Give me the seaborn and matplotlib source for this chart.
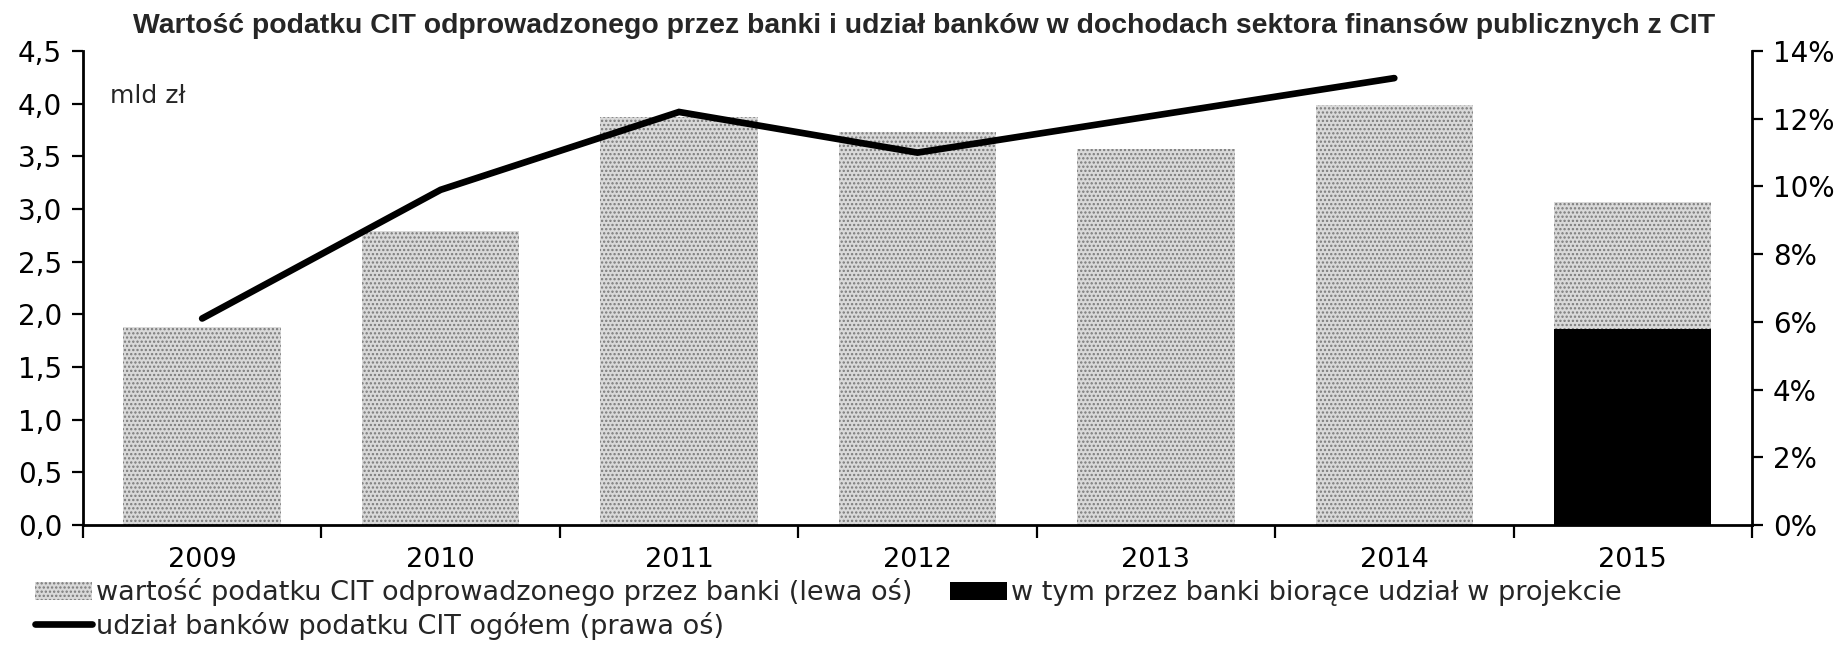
import numpy as np
import pandas as pd
import matplotlib
matplotlib.use("Agg")
import matplotlib.pyplot as plt
import seaborn as sns
from matplotlib.ticker import FuncFormatter
from matplotlib.patches import Patch
from matplotlib.lines import Line2D

# CIT paid by banks (bn PLN) and banks' share in public-sector CIT revenue (%)
years = ["2009", "2010", "2011", "2012", "2013", "2014", "2015"]
cit_banks = [1.88, 2.79, 3.87, 3.73, 3.57, 3.99, 3.07]
cit_projection_banks = [np.nan, np.nan, np.nan, np.nan, np.nan, np.nan, 1.86]
share_years = ["2009", "2010", "2011", "2012", "2013", "2014"]
bank_share_pct = [6.1, 9.9, 12.2, 11.0, 12.1, 13.2]

left_ticks = [0.0, 0.5, 1.0, 1.5, 2.0, 2.5, 3.0, 3.5, 4.0, 4.5]
right_ticks = [0, 2, 4, 6, 8, 10, 12, 14]

title = ("Wartość podatku CIT odprowadzonego przez banki i udział banków "
         "w dochodach sektora finansów publicznych z CIT")
lbl_total = "wartość podatku CIT odprowadzonego przez banki (lewa oś)"
lbl_proj = "w tym przez banki biorące udział w projekcie"
lbl_share = "udział banków podatku CIT ogółem (prawa oś)"

sns.set_theme(style="white")
plt.rcParams["font.family"] = ["DejaVu Sans"]
plt.rcParams["hatch.linewidth"] = 1.1

NARROW = "Liberation Sans Narrow"

df_total = pd.DataFrame({"year": years, "value": cit_banks})
df_proj = pd.DataFrame({"year": years, "value": cit_projection_banks}).dropna()
df_share = pd.DataFrame({"pos": [years.index(y) for y in share_years],
                         "share": bank_share_pct})

fig = plt.figure(figsize=(18.43, 6.46), dpi=100)
ax = fig.add_axes([0.0450, 0.1873, 0.9056, 0.7337])

stipple = dict(facecolor="#d9d9d9", edgecolor="#7a7a7a", hatch="....", linewidth=0)

sns.barplot(data=df_total, x="year", y="value", order=years, width=0.66,
            saturation=1, ax=ax, **stipple)
sns.barplot(data=df_proj, x="year", y="value", order=years, width=0.66,
            color="black", saturation=1, linewidth=0, ax=ax)

ax2 = ax.twinx()
sns.lineplot(data=df_share, x="pos", y="share", color="black", linewidth=4.8,
             legend=False, ax=ax2)
ax2.lines[0].set_solid_capstyle("round")
ax2.lines[0].set_solid_joinstyle("miter")

ax.set_xlim(-0.5, len(years) - 0.5)
ax.set_ylim(0, 4.5)
ax2.set_ylim(0, 14)

for a in (ax, ax2):
    a.set_xlabel("")
    a.set_ylabel("")
    a.grid(False)
    a.spines["top"].set_visible(False)
ax.spines["right"].set_visible(False)
ax2.spines["left"].set_visible(False)
ax2.spines["bottom"].set_visible(False)
for s in ("left", "bottom"):
    ax.spines[s].set_linewidth(2.0)
    ax.spines[s].set_color("black")
ax2.spines["right"].set_linewidth(2.0)
ax2.spines["right"].set_color("black")

# left axis
ax.set_yticks(left_ticks)
ax.yaxis.set_major_formatter(FuncFormatter(lambda v, p: f"{v:.1f}".replace(".", ",")))
ax.tick_params(axis="y", which="major", left=True, direction="out", length=8,
               width=1.6, pad=7, labelsize=20, colors="black")

# right axis
ax2.set_yticks(right_ticks)
ax2.yaxis.set_major_formatter(FuncFormatter(lambda v, p: f"{v:.0f}%"))
ax2.tick_params(axis="y", which="major", right=True, direction="out", length=8,
                width=1.6, pad=7, labelsize=20, colors="black")

# category axis: labels centred, tick marks between categories
ax.set_xticks(range(len(years)))
ax.set_xticklabels(years, fontfamily=NARROW, fontsize=19.5)
ax.set_xticks(np.arange(-0.5, len(years), 1.0), minor=True)
ax.tick_params(axis="x", which="major", bottom=True, length=0, pad=16, colors="black")
ax.tick_params(axis="x", which="minor", bottom=True, direction="out", length=9,
               width=1.6, color="black")

ax.text(0.016, 0.905, "mld zł", transform=ax.transAxes, fontfamily=NARROW,
        fontsize=18, va="center", ha="left")

fig.text(0.5015, 0.960, title, ha="center", va="center", fontsize=20.4,
         fontweight="bold", fontfamily="Liberation Sans")

handles = [
    Patch(label=lbl_total, **stipple),
    Line2D([], [], color="black", linewidth=4.8, label=lbl_share),
    Patch(facecolor="black", edgecolor="none", label=lbl_proj),
]
fig.legend(handles=handles, loc="center left", bbox_to_anchor=(0.019, 0.057),
           ncol=2, frameon=False, prop={"family": NARROW, "size": 19.5},
           handlelength=2.1, handleheight=0.7, handletextpad=0.15,
           columnspacing=1.4, labelspacing=0.2, borderpad=0, borderaxespad=0)

fig.savefig("out.png", dpi=100, facecolor="white")
